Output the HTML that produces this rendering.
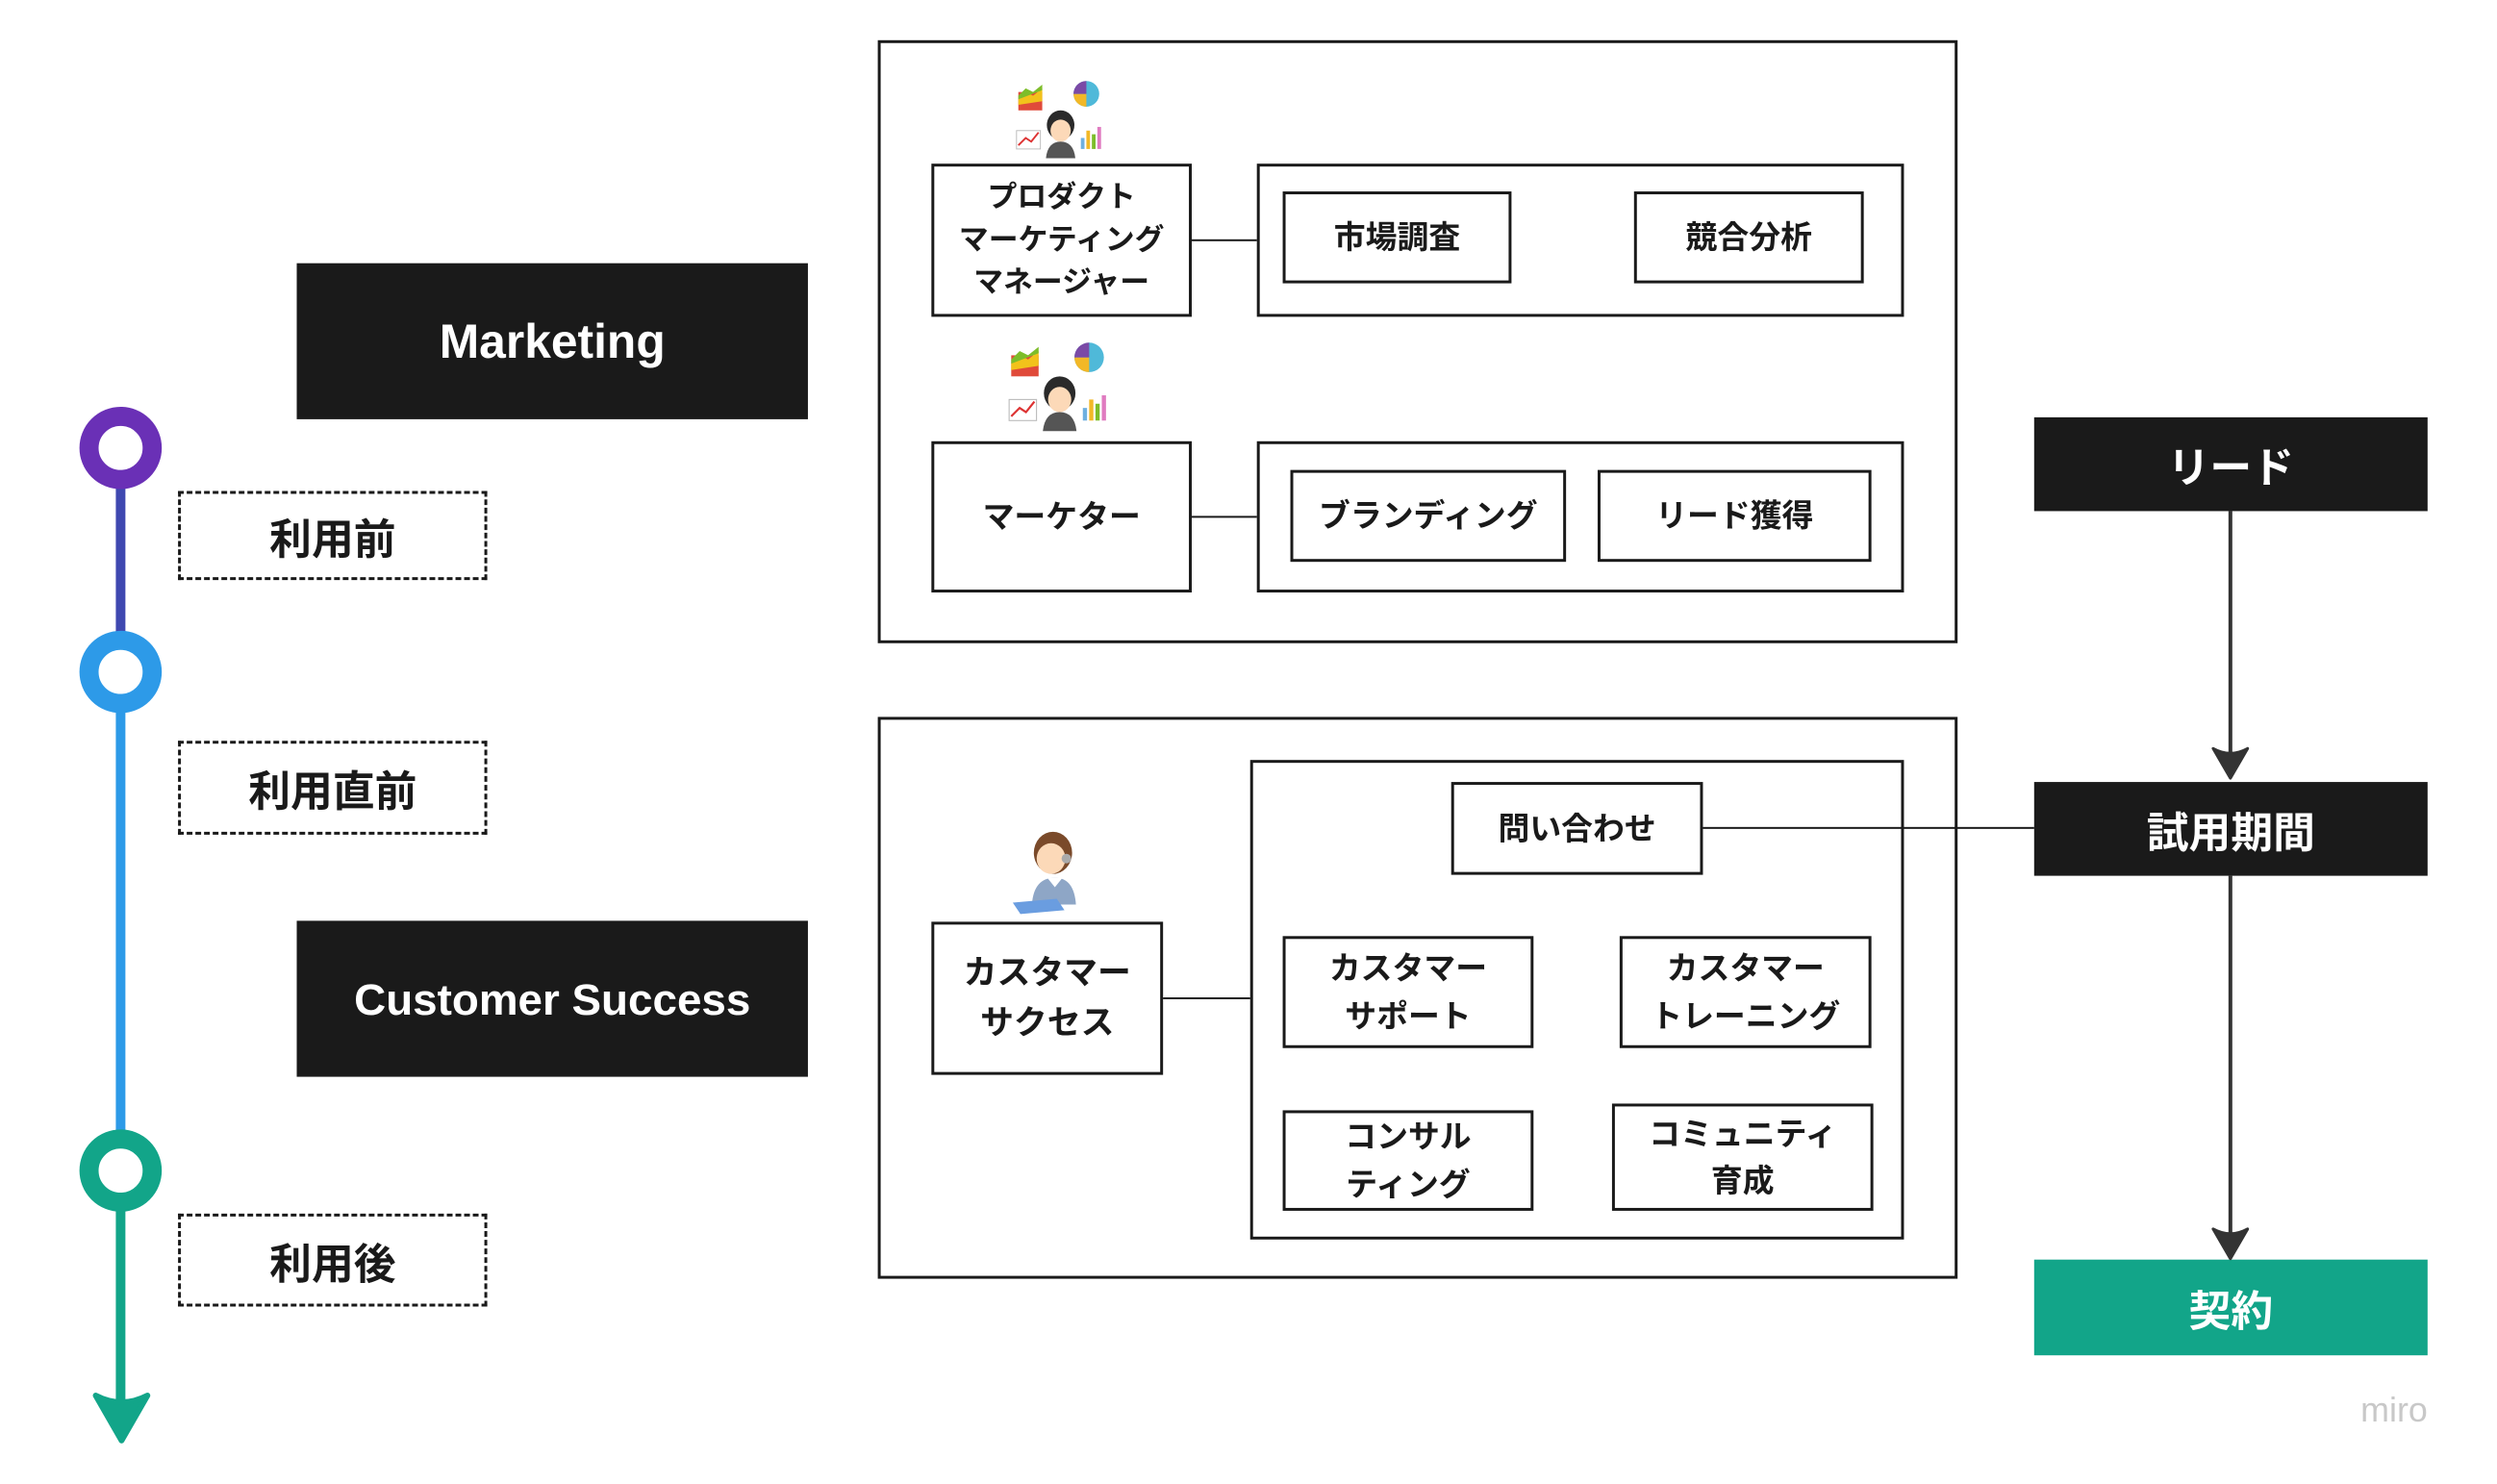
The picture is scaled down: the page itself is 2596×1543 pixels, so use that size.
<!DOCTYPE html>
<html><head><meta charset="utf-8"><style>
body{margin:0;width:2596px;height:1540px;background:#fff;position:relative;overflow:hidden;font-family:"Liberation Sans","Noto Sans CJK JP",sans-serif;font-weight:bold;color:#1a1a1a}
#w{position:absolute;left:0;top:0;width:2610px;height:1550px;transform:scale(0.9952);transform-origin:0 0}
.a{position:absolute;box-sizing:border-box}
.b{position:absolute;box-sizing:border-box;border:3px solid #1a1a1a;display:flex;align-items:center;justify-content:center;text-align:center;font-size:33px;line-height:1.5}
.d{position:absolute;box-sizing:border-box;border:3px dashed #1a1a1a;display:flex;align-items:center;justify-content:center;font-size:44px}
.k{position:absolute;box-sizing:border-box;background:#1a1a1a;color:#fff;display:flex;align-items:center;justify-content:center;font-size:46px}
.h{position:absolute;height:2px;background:#1a1a1a}
.ring{position:absolute;width:86px;height:86px;border-radius:50%;box-sizing:border-box;border:20px solid;background:#fff}
</style></head><body><div id="w">
<!-- timeline -->
<div class="a" style="left:121px;top:468px;width:10px;height:234px;background:#3f48b0"></div>
<div class="a" style="left:121px;top:702px;width:10px;height:521px;background:#2d9ae8"></div>
<div class="a" style="left:121px;top:1223px;width:10px;height:240px;background:#12a589"></div>
<svg class="a" style="left:95px;top:1450px" width="64" height="60"><path d="M5 8 Q32 22 59 8 L32 55 Z" fill="#12a589" stroke="#12a589" stroke-width="6" stroke-linejoin="round"/></svg>
<div class="ring" style="left:83px;top:425px;border-color:#6a30b6"></div>
<div class="ring" style="left:83px;top:659px;border-color:#2d9ae8"></div>
<div class="ring" style="left:83px;top:1180px;border-color:#12a589"></div>
<div class="d" style="left:186px;top:513px;width:323px;height:93px">利用前</div>
<div class="d" style="left:186px;top:774px;width:323px;height:98px">利用直前</div>
<div class="d" style="left:186px;top:1268px;width:323px;height:97px">利用後</div>
<div class="k" style="left:310px;top:275px;width:534px;height:163px;font-size:50px">Marketing</div>
<div class="k" style="left:310px;top:962px;width:534px;height:163px">Customer Success</div>
<!-- top box -->
<div class="b" style="left:917px;top:42px;width:1128px;height:630px"></div>
<div class="b" style="left:973px;top:171px;width:272px;height:160px;font-size:31px;line-height:1.45">プロダクト<br>マーケティング<br>マネージャー</div>
<div class="b" style="left:1313px;top:171px;width:676px;height:160px"></div>
<div class="b" style="left:1340px;top:200px;width:239px;height:96px">市場調査</div>
<div class="b" style="left:1707px;top:200px;width:240px;height:96px">競合分析</div>
<div class="h" style="left:1245px;top:250px;width:68px"></div>
<div class="b" style="left:973px;top:461px;width:272px;height:158px">マーケター</div>
<div class="b" style="left:1313px;top:461px;width:676px;height:158px"></div>
<div class="b" style="left:1348px;top:491px;width:288px;height:96px">ブランディング</div>
<div class="b" style="left:1669px;top:491px;width:286px;height:96px">リード獲得</div>
<div class="h" style="left:1245px;top:539px;width:68px"></div>
<!-- bottom box -->
<div class="b" style="left:917px;top:749px;width:1128px;height:587px"></div>
<div class="b" style="left:973px;top:963px;width:242px;height:160px;font-size:35px">カスタマー<br>サクセス</div>
<div class="b" style="left:1306px;top:794px;width:683px;height:501px"></div>
<div class="b" style="left:1516px;top:817px;width:263px;height:97px">問い合わせ</div>
<div class="b" style="left:1340px;top:978px;width:262px;height:117px">カスタマー<br>サポート</div>
<div class="b" style="left:1692px;top:978px;width:263px;height:117px">カスタマー<br>トレーニング</div>
<div class="b" style="left:1340px;top:1160px;width:262px;height:105px">コンサル<br>ティング</div>
<div class="b" style="left:1684px;top:1153px;width:273px;height:112px">コミュニティ<br>育成</div>
<div class="h" style="left:1215px;top:1042px;width:91px"></div>
<div class="h" style="left:1779px;top:864px;width:346px"></div>
<!-- right flow -->
<div class="k" style="left:2125px;top:436px;width:411px;height:98px;font-size:44px">リード</div>
<div class="k" style="left:2125px;top:817px;width:411px;height:98px;font-size:44px">試用期間</div>
<div class="k" style="left:2125px;top:1316px;width:411px;height:100px;font-size:44px;background:#12a589">契約</div>
<div class="a" style="left:2328px;top:534px;width:4px;height:260px;background:#333"></div>
<svg class="a" style="left:2309px;top:778px" width="42" height="38"><path d="M3 4 Q21 14 39 4 L21 35 Z" fill="#333" stroke="#333" stroke-width="3" stroke-linejoin="round"/></svg>
<div class="a" style="left:2328px;top:915px;width:4px;height:380px;background:#333"></div>
<svg class="a" style="left:2309px;top:1280px" width="42" height="38"><path d="M3 4 Q21 14 39 4 L21 35 Z" fill="#333" stroke="#333" stroke-width="3" stroke-linejoin="round"/></svg>
<div class="a" style="left:2466px;top:1452px;font-size:36px;color:#c8c8c8;font-weight:normal">miro</div>
<!-- icons -->
<svg class="a" style="left:1060px;top:80px" width="96" height="86" viewBox="0 0 100 88">
<rect x="4" y="16" width="26" height="20" fill="#e04a3a"/><path d="M4 24 L12 16 L20 20 L30 12 L30 26 L4 30Z" fill="#f2c21b"/><path d="M4 20 L12 12 L20 16 L30 8 L30 14 L4 24Z" fill="#7dbd2a"/>
<circle cx="78" cy="18" r="14" fill="#4fb9d9"/><path d="M78 18 L64 18 A14 14 0 0 0 78 32Z" fill="#f2b827"/><path d="M78 18 L78 4 A14 14 0 0 0 64 18Z" fill="#7b4aa6"/>
<rect x="2" y="58" width="26" height="20" fill="#fff" stroke="#bbb"/><path d="M4 74 L12 66 L18 70 L26 60" stroke="#d33" fill="none" stroke-width="2"/>
<rect x="72" y="66" width="4" height="12" fill="#6fb0e0"/><rect x="78" y="58" width="4" height="20" fill="#f2b827"/><rect x="84" y="62" width="4" height="16" fill="#7dbd2a"/><rect x="90" y="54" width="4" height="24" fill="#e07bc0"/>
<ellipse cx="50" cy="52" rx="15" ry="16" fill="#2a2a2a"/><ellipse cx="50" cy="58" rx="11" ry="12" fill="#fcd9b8"/><path d="M34 88 Q36 70 50 70 Q64 70 66 88Z" fill="#555"/></svg>
<svg class="a" style="left:1052px;top:352px" width="110" height="100" viewBox="0 0 100 88">
<rect x="4" y="16" width="26" height="20" fill="#e04a3a"/><path d="M4 24 L12 16 L20 20 L30 12 L30 26 L4 30Z" fill="#f2c21b"/><path d="M4 20 L12 12 L20 16 L30 8 L30 14 L4 24Z" fill="#7dbd2a"/>
<circle cx="78" cy="18" r="14" fill="#4fb9d9"/><path d="M78 18 L64 18 A14 14 0 0 0 78 32Z" fill="#f2b827"/><path d="M78 18 L78 4 A14 14 0 0 0 64 18Z" fill="#7b4aa6"/>
<rect x="2" y="58" width="26" height="20" fill="#fff" stroke="#bbb"/><path d="M4 74 L12 66 L18 70 L26 60" stroke="#d33" fill="none" stroke-width="2"/>
<rect x="72" y="66" width="4" height="12" fill="#6fb0e0"/><rect x="78" y="58" width="4" height="20" fill="#f2b827"/><rect x="84" y="62" width="4" height="16" fill="#7dbd2a"/><rect x="90" y="54" width="4" height="24" fill="#e07bc0"/>
<ellipse cx="50" cy="52" rx="15" ry="16" fill="#2a2a2a"/><ellipse cx="50" cy="58" rx="11" ry="12" fill="#fcd9b8"/><path d="M34 88 Q36 70 50 70 Q64 70 66 88Z" fill="#555"/></svg>
<svg class="a" style="left:1052px;top:865px" width="85" height="92" viewBox="0 0 85 92">
<ellipse cx="48" cy="26" rx="20" ry="22" fill="#7a4a2a"/><ellipse cx="46" cy="32" rx="15" ry="16" fill="#fcd9b8"/><circle cx="62" cy="32" r="5" fill="#aaa"/>
<path d="M26 80 Q28 52 50 52 Q70 52 72 80Z" fill="#8ea6c6"/><path d="M42 52 L50 62 L58 52Z" fill="#fff"/>
<path d="M6 78 L52 74 L60 86 L14 90Z" fill="#6a9de0"/></svg>
</div></body></html>
